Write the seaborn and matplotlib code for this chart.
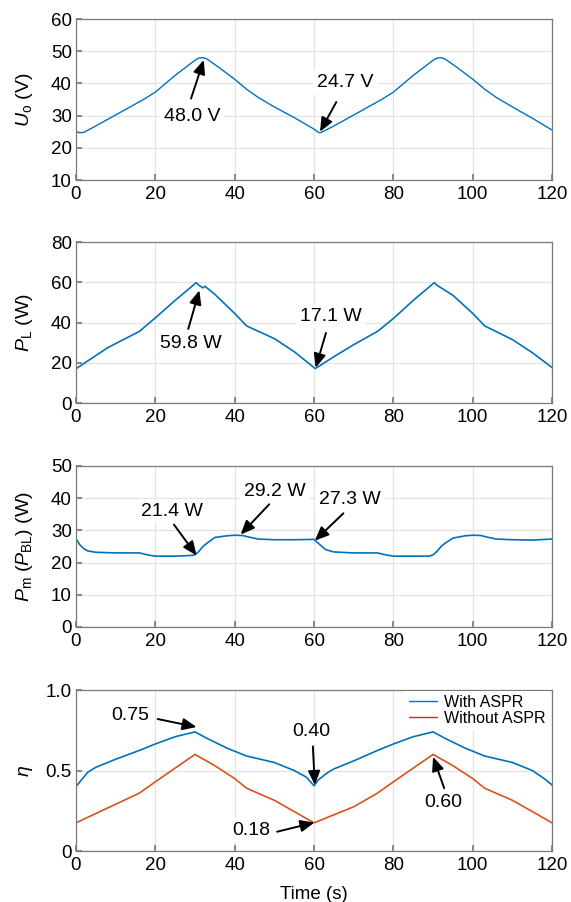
import matplotlib
matplotlib.use("Agg")
import matplotlib.pyplot as plt
import seaborn as sns
import pandas as pd

# ---- data -------------------------------------------------------------
t_uo = [0, 1, 2, 5, 10, 17, 20, 25, 30, 31, 32, 33, 36, 40, 43, 46, 50, 55,
        60, 61, 61.5, 62, 65, 70, 77, 80, 85, 90, 91, 92, 93, 96, 100, 103,
        106, 110, 115, 120]
uo = [25.0, 24.7, 24.8, 26.8, 30.2, 35.0, 37.3, 42.5, 47.2, 47.9, 48.0, 47.6,
      45.0, 41.3, 38.2, 35.6, 32.7, 29.4, 25.8, 24.9, 24.7, 24.9, 26.8, 30.2,
      35.0, 37.3, 42.5, 47.2, 47.9, 48.0, 47.6, 45.0, 41.3, 38.2, 35.6, 32.7,
      29.2, 25.5]

t_pl = [0, 8, 16, 20, 25, 30, 30.3, 31, 32, 32.5, 35, 40, 43, 50, 55, 60.3,
        65, 70, 76, 80, 85, 90, 90.3, 91, 95, 100, 103, 110, 115, 120]
pl = [17.0, 27.5, 35.6, 42.3, 51.0, 59.3, 59.8, 58.5, 57.2, 58.0, 54.0, 44.5,
      38.3, 32.0, 25.5, 17.1, 23.0, 29.0, 35.6, 42.0, 51.0, 59.3, 59.8, 58.5,
      53.5, 44.5, 38.3, 31.5, 25.0, 17.6]

t_pm = [0, 1, 2, 3, 5, 10, 16, 18, 20, 25, 29, 30, 31, 32, 33, 35, 38, 40,
        42, 44, 46, 50, 55, 60, 60.5, 62, 63, 65, 70, 76, 78, 80, 85, 89, 90,
        91, 92, 93, 95, 98, 100, 102, 104, 106, 110, 115, 120]
pm = [27.4, 25.5, 24.3, 23.6, 23.2, 23.0, 23.0, 22.4, 22.0, 22.0, 22.2, 22.4,
      23.5, 25.0, 26.0, 27.8, 28.3, 28.5, 28.4, 27.8, 27.3, 27.1, 27.1, 27.2,
      26.6, 25.0, 24.0, 23.3, 23.0, 23.0, 22.4, 22.0, 22.0, 22.0, 22.4, 23.5,
      25.0, 26.0, 27.6, 28.3, 28.5, 28.4, 27.8, 27.3, 27.1, 27.0, 27.3]

t_eta = [0, 2, 3, 5, 10, 16, 20, 25, 30, 33, 38, 43, 50, 55, 58, 60, 61, 63,
         65, 70, 76, 80, 85, 90, 93, 98, 103, 110, 115, 118, 120]
eta_aspr = [0.40, 0.46, 0.49, 0.52, 0.57, 0.625, 0.665, 0.71, 0.74, 0.70, 0.64,
            0.59, 0.55, 0.50, 0.46, 0.405, 0.44, 0.48, 0.51, 0.56, 0.625,
            0.665, 0.71, 0.74, 0.70, 0.64, 0.59, 0.55, 0.50, 0.45, 0.41]

t_eta0 = [0, 16, 20, 30, 35, 40, 43, 50, 60, 70, 76, 80, 90, 95, 100, 103, 110,
          120]
eta_none = [0.175, 0.36, 0.43, 0.60, 0.53, 0.45, 0.39, 0.315, 0.175, 0.275,
            0.36, 0.43, 0.60, 0.53, 0.45, 0.39, 0.315, 0.175]

series_names = ["With ASPR", "Without ASPR"]

# ---- style ------------------------------------------------------------
BLUE = "#0072BD"
ORANGE = "#D95319"
SPINE = "#7a7a7a"

sns.set_theme(style="ticks")
plt.rcParams["font.family"] = ["Liberation Sans", "DejaVu Sans"]
plt.rcParams.update({
    "mathtext.fontset": "custom",
    "mathtext.rm": "Liberation Sans",
    "mathtext.it": "Liberation Sans:italic",
    "mathtext.bf": "Liberation Sans:bold",
    "text.color": "black",
    "axes.labelcolor": "black",
    "axes.edgecolor": SPINE,
    "axes.linewidth": 0.9,
    "xtick.direction": "in",
    "ytick.direction": "in",
    "xtick.color": SPINE,
    "ytick.color": SPINE,
    "xtick.labelcolor": "black",
    "ytick.labelcolor": "black",
    "xtick.labelsize": 13.5,
    "ytick.labelsize": 13.5,
    "xtick.major.size": 4,
    "ytick.major.size": 4,
    "xtick.major.pad": 4,
    "ytick.major.pad": 3,
})

fig = plt.figure(figsize=(5.71, 9.02), dpi=100)
L, W, H = 0.133, 0.834, 0.1785
bottoms = [0.8004, 0.5532, 0.3049, 0.0565]
axes = [fig.add_axes([L, b, W, H]) for b in bottoms]


def style(ax, ylim, yticks, ylabel):
    ax.set_xlim(0, 120)
    ax.set_xticks([0, 20, 40, 60, 80, 100, 120])
    ax.set_ylim(*ylim)
    ax.set_yticks(yticks)
    ax.grid(True, color="#e3e3e3", linewidth=0.9)
    ax.set_axisbelow(True)
    for s in ax.spines.values():
        s.set_visible(True)
        s.set_color(SPINE)
    ax.set_xlabel("")
    ax.set_ylabel(ylabel, fontsize=14, color="black")
    ax.yaxis.set_label_coords(-0.085, 0.5)


def note(ax, text, xy, xytext, tail):
    ax.annotate("", xy=xy, xytext=tail,
                arrowprops=dict(arrowstyle="-|>,head_length=0.7,head_width=0.3",
                                lw=1.4, color="black", shrinkA=0, shrinkB=0),
                zorder=6)
    ax.text(*xytext, text, fontsize=14, color="black", ha="center",
            va="center", zorder=5,
            bbox=dict(boxstyle="square,pad=0.2", fc="white", ec="none"))


# Panel 1: output voltage
ax = axes[0]
sns.lineplot(x=t_uo, y=uo, ax=ax, color=BLUE, linewidth=1.0)
style(ax, (10, 60), [10, 20, 30, 40, 50, 60], r"$U_\mathrm{o}$ (V)")
note(ax, "48.0 V", (32.2, 47.3), (29.3, 29.6), (29.0, 35.3))
note(ax, "24.7 V", (61.5, 25.0), (67.9, 40.4), (65.6, 34.2))

# Panel 2: load power
ax = axes[1]
sns.lineplot(x=t_pl, y=pl, ax=ax, color=BLUE, linewidth=1.2)
style(ax, (0, 80), [0, 20, 40, 60, 80], r"$P_\mathrm{L}$ (W)")
note(ax, "59.8 W", (31.1, 56.0), (29.0, 29.8), (28.3, 36.8))
note(ax, "17.1 W", (60.4, 17.5), (64.2, 43.2), (63.0, 34.8))

# Panel 3: motor / battery power
ax = axes[2]
sns.lineplot(x=t_pm, y=pm, ax=ax, color=BLUE, linewidth=1.2)
style(ax, (0, 50), [0, 10, 20, 30, 40, 50],
      r"$P_\mathrm{m}$ ($P_\mathrm{BL}$) (W)")
note(ax, "21.4 W", (30.4, 22.2), (24.2, 36.0), (24.7, 31.8))
note(ax, "29.2 W", (41.5, 28.7), (50.2, 42.2), (48.7, 38.1))
note(ax, "27.3 W", (60.2, 26.8), (69.0, 39.6), (67.4, 35.3))

# Panel 4: efficiency
ax = axes[3]
eff = pd.concat([
    pd.DataFrame({"t": t_eta, "eta": eta_aspr, "case": series_names[0]}),
    pd.DataFrame({"t": t_eta0, "eta": eta_none, "case": series_names[1]}),
])
sns.lineplot(data=eff, x="t", y="eta", hue="case", hue_order=series_names,
             palette=[BLUE, ORANGE], ax=ax, linewidth=1.2)
style(ax, (0, 1.0), [0, 0.5, 1.0], r"$\eta$")
ax.set_yticklabels(["0", "0.5", "1.0"])
ax.set_xlabel("Time (s)", fontsize=13.5, color="black", labelpad=9)
note(ax, "0.75", (30.4, 0.77), (13.6, 0.84), (20.6, 0.82))
note(ax, "0.40", (60.2, 0.41), (59.4, 0.74), (59.7, 0.65))
note(ax, "0.60", (90.0, 0.585), (92.5, 0.30), (92.8, 0.39))
note(ax, "0.18", (60.1, 0.177), (44.1, 0.13), (50.7, 0.12))
leg = ax.legend(loc="upper right", bbox_to_anchor=(0.995, 0.995),
                frameon=True, fontsize=11.5, handlelength=1.75,
                borderaxespad=0.0, borderpad=0.25, labelspacing=0.05,
                handletextpad=0.45)
leg.get_frame().set_edgecolor("none")
leg.get_frame().set_facecolor("white")
leg.get_frame().set_alpha(1.0)
leg.get_frame().set_boxstyle("square", pad=0.0)
leg.legend_handles[1].set_color("#a8392a")
for h in leg.legend_handles:
    h.set_linewidth(1.0)

fig.savefig("out.png", dpi=100)
